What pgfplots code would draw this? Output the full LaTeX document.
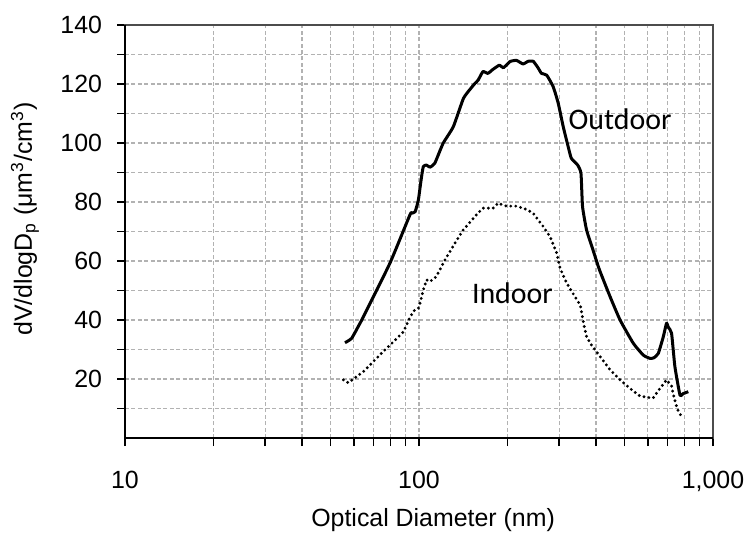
\documentclass[border=0pt]{standalone}
\usepackage{fontspec}
\setmainfont{Liberation Sans}
\newfontfamily\lblfont{Carlito}
\usepackage{pgfplots}
\pgfplotsset{compat=1.18}

\begin{document}
\begin{tikzpicture}
\begin{axis}[
    at={(0,0)}, anchor=south west,
    scale only axis,
    width=294bp, height=206.5bp,
    xmode=log,
    xmin=10, xmax=1000,
    ymin=0, ymax=140,
    xtick={10,100,1000},
    xticklabels={10,100,{1,000}},
    minor xtick={20,30,40,50,60,70,80,90,200,300,400,500,600,700,800,900},
    ytick={20,40,...,140},
    minor ytick={10,30,...,130},
    tick align=outside,
    xtick pos=left, ytick pos=left,
    major tick length=4bp, minor tick length=4bp,
    every tick/.style={black, line width=0.8bp},
    grid=both,
    major grid style={gray!60, dash pattern=on 2bp off 1.2bp, line width=0.6bp},
    minor grid style={gray!60, dash pattern=on 2bp off 1.2bp, line width=0.6bp},
    axis line style={black!70, line width=0.6bp},
    /pgf/number format/assume math mode=true,
    ticklabel style={font=\fontsize{12.5}{14}\selectfont},
    yticklabel style={xshift=-4bp},
    xticklabel style={yshift=-9bp},
    xlabel={Optical Diameter (nm)},
    ylabel={dV/dlogD\textsubscript{p} (μm\textsuperscript{3}/cm\textsuperscript{3})},
    xlabel style={at={(axis description cs:0.524,0)}, anchor=center, yshift=-41bp,
        font=\fontsize{12.5}{15}\selectfont},
    ylabel style={at={(axis description cs:-0.17,0.53)}, anchor=center,
        font=\fontsize{12.5}{15}\selectfont},
    after end axis/.code={
        \draw[black, line width=1.2bp] (rel axis cs:0,1) -- (rel axis cs:0,0) -- (rel axis cs:1,0);
    },
]

% outdoor
\addplot[black, line width=1.5bp, line join=round, smooth, tension=0.3] coordinates {
(56,32.3)(59,33.8)(63,38.9)(64.7,41.1)(79.6,59.2)(93.1,75.6)(94.4,76.2)(97,76.7)
(99.5,80.7)(101.5,87)(103.4,92)(106.1,92.5)(108.9,91.8)(113.1,93.1)(120.8,99.9)
(130.8,105.5)(141.6,115.1)(150,118.5)(155,120.2)(158.9,121.3)(165,124.2)(171.5,123.6)
(178.2,124.9)(187.8,126.4)(193.6,125.5)(204,127.6)(214.6,128)(225.8,126.8)(235.2,127.7)
(244.6,127.7)(254,125.5)(261,123.6)(271.8,123)(286,119.1)(297.5,113.5)(309.5,105.5)
(321.6,98.8)(329.8,94.8)(346.6,92.5)(355.6,89.7)(360,78.4)(371.6,70.5)(390.8,63.7)
(411,57)(446.7,47.9)(483,40)(535.7,32.1)(579.3,28.1)(610.5,27)(630,27.2)(651.6,28.7)
(677.5,34.3)(695,38.9)(705,37.5)(722.9,35.5)(742,24.2)(772,14.6)(790,15)(824,15.7)
};

% indoor
\addplot[black, line width=1.6bp, line cap=round, dash pattern=on 0pt off 2.5bp] coordinates {
(55.3,19.7)(57.5,18.7)(59.6,19.9)(64.7,22.5)(69.9,25.9)(75.6,29.3)(81.8,32.6)(88.5,36)
(93.3,41.1)(97,43.6)(99.5,44)(100.8,45.7)(103.4,50.2)(106.1,53.6)(108.9,53)(114.5,54.7)
(122.4,60.3)(132.4,66)(141.3,70.5)(156.5,75.6)(165,77.9)(178.7,77.9)(185.7,79.6)
(198.4,78.6)(214.6,78.6)(232,77.5)(244.6,76.2)(265,71.6)(279.2,68.2)(294.3,62.6)
(302,57.5)(318,52.5)(334,49)(347.6,46.2)(353.5,45.1)(363,38.9)(371.6,34.3)(386,31.5)
(413,27.6)(446.7,23.1)(483,19.7)(522,16.8)(565,14.2)(625,13.5)(660,16.8)(695,19.7)
(722.9,17.6)(736,14)(755,10)(782,7.2)
};

\node[anchor=west, inner sep=0pt, font=\lblfont\fontsize{15}{18}\selectfont] at (axis cs:322,108) {Outdoor};
\node[anchor=west, inner sep=0pt, font=\lblfont\fontsize{15}{18}\selectfont] at (axis cs:151,49) {Indoor};
\end{axis}
\pgfresetboundingbox
\path (-62.5bp,-48.5bp) rectangle (310.5bp,219bp);
\end{tikzpicture}
\end{document}
